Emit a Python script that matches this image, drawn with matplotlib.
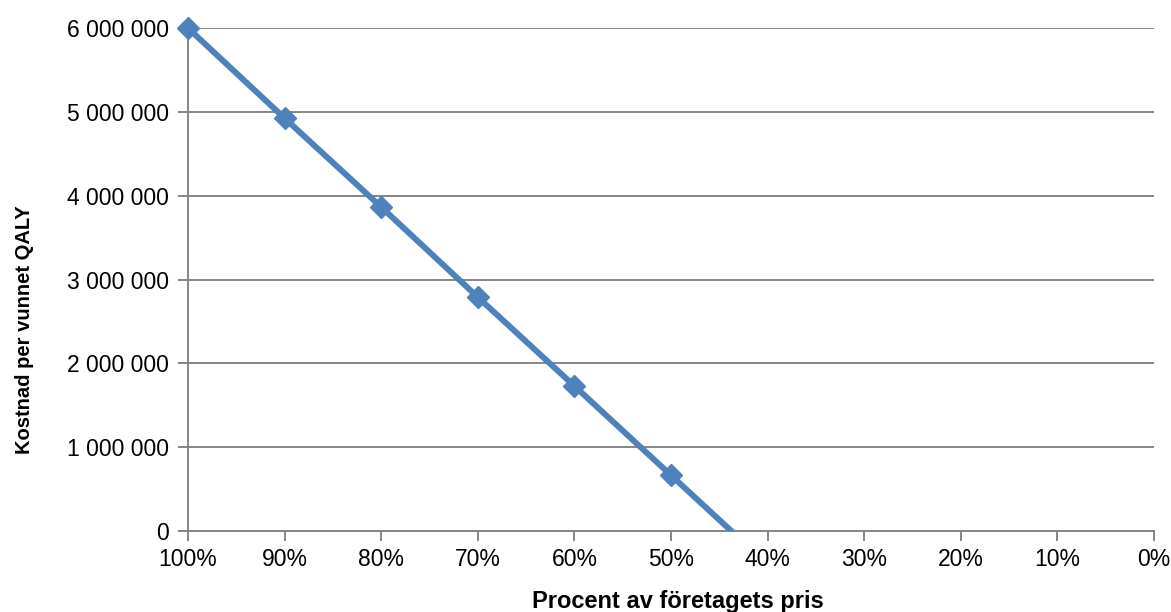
import numpy as np
import matplotlib.pyplot as plt
from matplotlib.ticker import FuncFormatter

plt.rcParams["font.family"] = ["Liberation Sans", "DejaVu Sans"]

# andel av företagets pris (%) och kostnad per vunnet QALY (kr)
procent = [100, 90, 80, 70, 60, 50, 40]
kostnad = [6000000, 4925000, 3865000, 2790000, 1730000, 665000, -400000]

x_ticks = [100, 90, 80, 70, 60, 50, 40, 30, 20, 10, 0]
y_ticks = [0, 1000000, 2000000, 3000000, 4000000, 5000000, 6000000]

blue = "#4F81BD"
grey = "#868686"

fig = plt.figure(figsize=(11.71, 6.12), dpi=100)
ax = fig.add_axes([0.1605, 0.1324, 0.825, 0.8218])

# the line runs below zero and is cut by the axis, the markers are not
ax.plot(procent, kostnad, "-", color=blue, lw=4.3, zorder=3, solid_capstyle="butt")
kostnad_arr = np.array(kostnad, dtype=float)
synlig = np.where(kostnad_arr >= 0, kostnad_arr, np.nan)
ax.plot(procent, synlig, "D", color=blue, ms=11, zorder=4, clip_on=False)

ax.set_xlim(100, 0)
ax.set_ylim(0, 6000000)
ax.set_xticks(x_ticks)
ax.set_yticks(y_ticks)
ax.xaxis.set_major_formatter(FuncFormatter(lambda v, p: f"{int(round(v))}%"))
ax.yaxis.set_major_formatter(
    FuncFormatter(lambda v, p: f"{int(round(v)):,}".replace(",", " "))
)

ax.grid(axis="y", color=grey, lw=1.4)
ax.set_axisbelow(True)
for side in ["top", "right"]:
    ax.spines[side].set_visible(False)
for side in ["left", "bottom"]:
    ax.spines[side].set_color(grey)
    ax.spines[side].set_linewidth(1.4)

ax.tick_params(axis="both", colors=grey, length=7, width=1.4, labelsize=16.5,
               labelcolor="black")
ax.tick_params(axis="x", pad=5)
ax.tick_params(axis="y", pad=7)

ax.set_xlabel("Procent av företagets pris", fontsize=17, fontweight="bold")
ax.set_ylabel("Kostnad per vunnet QALY", fontsize=14.5, fontweight="bold")
ax.xaxis.set_label_coords(0.507, -0.118)
ax.yaxis.set_label_coords(-0.159, 0.40)

fig.savefig("out.png", dpi=100)
